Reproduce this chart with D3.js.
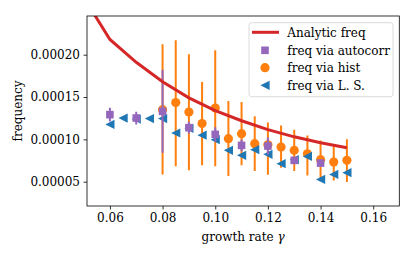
<!DOCTYPE html>
<html>
<head>
<meta charset="utf-8">
<script src="https://cdn.jsdelivr.net/npm/d3@7"></script>
<style>
  body { margin: 0; background: #fff; }
  text { font-family: "DejaVu Serif", serif; }
</style>
</head>
<body>
<script>
// analytic curve
const analyticX = [0.05, 0.06, 0.07, 0.08, 0.09, 0.10, 0.11, 0.12, 0.13, 0.14, 0.15];
const analyticY = [0.000268, 0.000218, 0.000191, 0.000168, 0.000149, 0.000134, 0.000122, 0.0001115, 0.000103, 0.000096, 0.000090];

// freq via autocorr (value, error)
const acX = [0.06, 0.07, 0.08, 0.09, 0.10, 0.11, 0.12, 0.13, 0.14];
const acY = [0.0001292, 0.0001252, 0.0001331, 0.0001138, 0.0001059, 0.0000929, 0.0000921, 0.0000752, 0.0000720];
const acErr = [0.0000080, 0.0000075, 0.0000490, 0.0000070, 0.0000085, 0.0000070, 0.0000100, 0.0000040, 0.0000040];

// freq via hist (value, low end, high end)
const histX = [0.08, 0.085, 0.09, 0.095, 0.10, 0.105, 0.11, 0.115, 0.12, 0.125, 0.13, 0.135, 0.14, 0.145, 0.15];
const histY = [0.0001351, 0.0001434, 0.0001323, 0.0001186, 0.0001370, 0.0001008, 0.0001067, 0.0000949, 0.0000935, 0.0000909, 0.0000870, 0.0000830, 0.0000760, 0.0000732, 0.0000752];
const histLo = [0.0000586, 0.0000681, 0.0000634, 0.0000693, 0.0000681, 0.0000566, 0.0000693, 0.0000625, 0.0000583, 0.0000665, 0.0000625, 0.0000574, 0.0000535, 0.0000515, 0.0000495];
const histHi = [0.0002123, 0.0002170, 0.0002005, 0.0001677, 0.0002052, 0.0001453, 0.0001441, 0.0001272, 0.0001200, 0.0001165, 0.0001115, 0.0001047, 0.0000988, 0.0000929, 0.0001000];

// freq via L. S.
const lsX = [0.06, 0.065, 0.07, 0.075, 0.08, 0.085, 0.09, 0.095, 0.10, 0.105, 0.11, 0.115, 0.12, 0.125, 0.13, 0.135, 0.14, 0.145, 0.15];
const lsY = [0.0001177, 0.0001252, 0.0001240, 0.0001245, 0.0001245, 0.0001075, 0.0001130, 0.0001050, 0.0000996, 0.0000870, 0.0000811, 0.0000878, 0.0000823, 0.0000713, 0.0000760, 0.0000799, 0.0000527, 0.0000586, 0.0000606];

const xTicks = [0.06, 0.08, 0.10, 0.12, 0.14, 0.16];
const yTicks = [0.00005, 0.00010, 0.00015, 0.00020];

const legendLabels = ['Analytic freq', 'freq via autocorr', 'freq via hist', 'freq via L. S.'];

const red = '#d62728', purple = '#9467bd', orange = '#ff7f0e', blue = '#1f77b4';

const width = 416, height = 257;
const margin = { left: 87, right: 16.7, top: 16, bottom: 51 };

const x = d3.scaleLinear()
  .domain([0.0513, 0.1699])
  .range([margin.left, width - margin.right]);
const y = d3.scaleLinear()
  .domain([0.0000213, 0.0002457])
  .range([height - margin.bottom, margin.top]);

const svg = d3.select('body').append('svg')
  .attr('width', width)
  .attr('height', height);

svg.append('defs').append('clipPath').attr('id', 'clip')
  .append('rect')
  .attr('x', margin.left).attr('y', margin.top)
  .attr('width', width - margin.left - margin.right)
  .attr('height', height - margin.top - margin.bottom);

const plot = svg.append('g').attr('clip-path', 'url(#clip)');

// hist errorbars + circles
plot.append('g').selectAll('line')
  .data(histX)
  .join('line')
  .attr('x1', d => x(d)).attr('x2', d => x(d))
  .attr('y1', (d, i) => y(histLo[i]))
  .attr('y2', (d, i) => y(histHi[i]))
  .attr('stroke', orange)
  .attr('stroke-width', 2);

plot.append('g').selectAll('circle')
  .data(histX)
  .join('circle')
  .attr('cx', d => x(d))
  .attr('cy', (d, i) => y(histY[i]))
  .attr('r', 4.6)
  .attr('fill', orange);

// left-pointing triangle marker, like matplotlib '<'
const triPath = 'M-4.6,0L4.6,-4.6L4.6,4.6Z';
plot.append('g').selectAll('path')
  .data(lsX)
  .join('path')
  .attr('d', triPath)
  .attr('transform', (d, i) => `translate(${x(d)},${y(lsY[i])})`)
  .attr('fill', blue);

// autocorr errorbars + squares
plot.append('g').selectAll('line')
  .data(acX)
  .join('line')
  .attr('x1', d => x(d)).attr('x2', d => x(d))
  .attr('y1', (d, i) => y(acY[i] - acErr[i]))
  .attr('y2', (d, i) => y(acY[i] + acErr[i]))
  .attr('stroke', purple)
  .attr('stroke-width', 2);

plot.append('g').selectAll('rect')
  .data(acX)
  .join('rect')
  .attr('x', d => x(d) - 3.8)
  .attr('y', (d, i) => y(acY[i]) - 3.8)
  .attr('width', 7.6)
  .attr('height', 7.6)
  .attr('fill', purple);

// analytic curve
plot.append('path')
  .datum(analyticX.map((d, i) => [d, analyticY[i]]))
  .attr('d', d3.line().x(d => x(d[0])).y(d => y(d[1])))
  .attr('fill', 'none')
  .attr('stroke', red)
  .attr('stroke-width', 3);

// axes
const xAxis = svg.append('g')
  .attr('transform', `translate(0,${height - margin.bottom})`)
  .call(d3.axisBottom(x).tickValues(xTicks).tickFormat(d3.format('.2f')).tickSizeOuter(0).tickSize(3.5).tickPadding(3.5));
const yAxis = svg.append('g')
  .attr('transform', `translate(${margin.left},0)`)
  .call(d3.axisLeft(y).tickValues(yTicks).tickFormat(d => d.toFixed(5)).tickSizeOuter(0).tickSize(3.5).tickPadding(3.5));

[xAxis, yAxis].forEach(a => {
  a.select('.domain').remove();
  a.selectAll('line').attr('stroke', '#000').attr('stroke-width', 0.8);
  a.selectAll('text').attr('font-size', 12).attr('fill', '#000')
    .style('font-family', '"DejaVu Serif", serif');
});

svg.append('rect')
  .attr('x', margin.left).attr('y', margin.top)
  .attr('width', width - margin.left - margin.right)
  .attr('height', height - margin.top - margin.bottom)
  .attr('fill', 'none')
  .attr('stroke', '#000')
  .attr('stroke-width', 0.8);

// axis labels
const xl = svg.append('text')
  .attr('x', (margin.left + width - margin.right) / 2)
  .attr('y', 241)
  .attr('text-anchor', 'middle')
  .attr('font-size', 12);
xl.append('tspan').text('growth rate ');
xl.append('tspan').attr('font-style', 'italic').text('γ');

svg.append('text')
  .attr('transform', `translate(22,${(margin.top + height - margin.bottom) / 2}) rotate(-90)`)
  .attr('text-anchor', 'middle')
  .attr('font-size', 12)
  .text('frequency');

// legend
const lg = svg.append('g');
lg.append('rect')
  .attr('x', 249).attr('y', 22.7)
  .attr('width', 144).attr('height', 74)
  .attr('rx', 2.5)
  .attr('fill', '#fff').attr('fill-opacity', 0.8)
  .attr('stroke', '#d0d0d0').attr('stroke-width', 0.8);

const rowY = [32.3, 50.3, 67.7, 85.3];
lg.append('line')
  .attr('x1', 252).attr('x2', 279)
  .attr('y1', rowY[0]).attr('y2', rowY[0])
  .attr('stroke', red).attr('stroke-width', 3);
lg.append('rect')
  .attr('x', 265 - 3.8).attr('y', rowY[1] - 3.8)
  .attr('width', 7.6).attr('height', 7.6)
  .attr('fill', purple);
lg.append('circle')
  .attr('cx', 265).attr('cy', rowY[2]).attr('r', 4.6)
  .attr('fill', orange);
lg.append('path')
  .attr('d', triPath)
  .attr('transform', `translate(265,${rowY[3]})`)
  .attr('fill', blue);

lg.selectAll('text.lab')
  .data(legendLabels)
  .join('text')
  .attr('class', 'lab')
  .attr('x', 287.3)
  .attr('y', (d, i) => rowY[i])
  .attr('dy', '0.35em')
  .attr('font-size', 12)
  .text(d => d);
</script>
</body>
</html>
